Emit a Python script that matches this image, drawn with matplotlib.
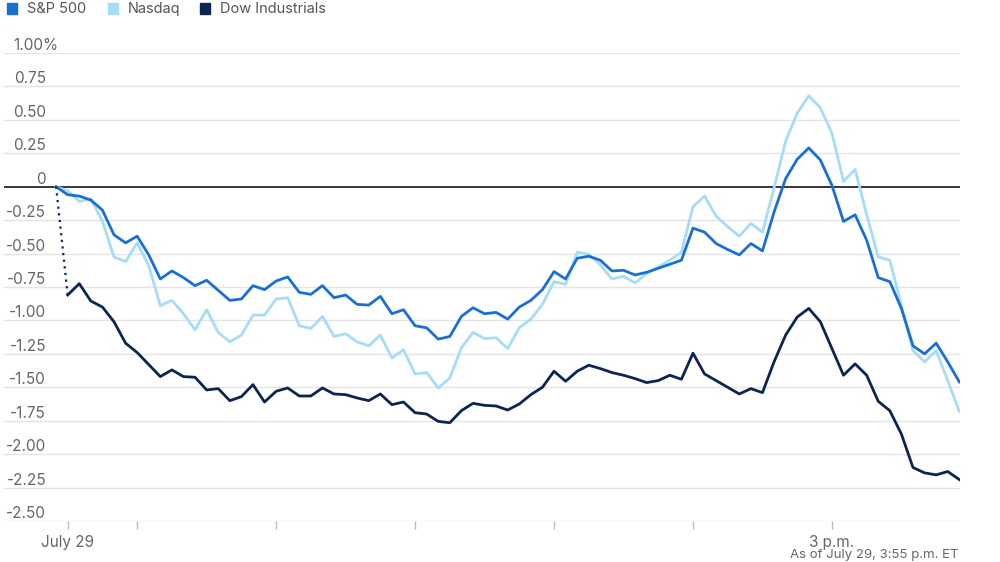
import matplotlib.pyplot as plt
import matplotlib.patches as mpatches
import numpy as np

plt.rcParams['font.family'] = ['Inter', 'DejaVu Sans']

# 5-minute marks, minutes after 9:25 a.m. (9:25 = prior close, 0%)
minutes = np.arange(0, 395, 5)

sp500 = [0, -0.06, -0.07, -0.10, -0.175, -0.36, -0.42, -0.37, -0.51, -0.69,
         -0.63, -0.68, -0.74, -0.70, -0.775, -0.85, -0.84, -0.74, -0.77, -0.705,
         -0.675, -0.79, -0.805, -0.74, -0.83, -0.81, -0.88, -0.885, -0.82, -0.95,
         -0.92, -1.04, -1.055, -1.14, -1.12, -0.97, -0.905, -0.95, -0.94, -0.99,
         -0.90, -0.85, -0.77, -0.635, -0.69, -0.535, -0.52, -0.55, -0.63, -0.625,
         -0.66, -0.64, -0.61, -0.58, -0.55, -0.31, -0.34, -0.425, -0.47, -0.51,
         -0.425, -0.48, -0.19, 0.06, 0.205, 0.29, 0.20, 0.01, -0.26, -0.21,
         -0.40, -0.68, -0.71, -0.91, -1.19, -1.25, -1.17, -1.31, -1.46]

nasdaq = [0, -0.03, -0.11, -0.09, -0.26, -0.525, -0.56, -0.42, -0.59, -0.89,
          -0.85, -0.95, -1.07, -0.92, -1.09, -1.16, -1.11, -0.96, -0.96, -0.84,
          -0.83, -1.04, -1.06, -0.97, -1.12, -1.10, -1.16, -1.19, -1.11, -1.28,
          -1.22, -1.40, -1.39, -1.505, -1.43, -1.205, -1.09, -1.135, -1.13, -1.21,
          -1.055, -0.99, -0.88, -0.71, -0.73, -0.49, -0.505, -0.585, -0.69, -0.67,
          -0.72, -0.65, -0.60, -0.55, -0.49, -0.15, -0.07, -0.22, -0.30, -0.37,
          -0.275, -0.34, -0.01, 0.34, 0.55, 0.68, 0.59, 0.40, 0.04, 0.13,
          -0.21, -0.525, -0.55, -0.89, -1.225, -1.31, -1.225, -1.45, -1.68]

dow = [0, -0.81, -0.725, -0.855, -0.90, -1.01, -1.17, -1.24, -1.33, -1.42,
       -1.37, -1.42, -1.425, -1.52, -1.51, -1.60, -1.57, -1.48, -1.61, -1.53,
       -1.505, -1.565, -1.565, -1.505, -1.55, -1.555, -1.58, -1.60, -1.55, -1.63,
       -1.61, -1.69, -1.70, -1.755, -1.765, -1.675, -1.62, -1.635, -1.64, -1.67,
       -1.625, -1.555, -1.50, -1.38, -1.455, -1.38, -1.335, -1.36, -1.39, -1.41,
       -1.435, -1.465, -1.45, -1.41, -1.44, -1.245, -1.40, -1.45, -1.50, -1.55,
       -1.51, -1.54, -1.31, -1.11, -0.975, -0.91, -1.01, -1.21, -1.41, -1.325,
       -1.41, -1.605, -1.675, -1.85, -2.10, -2.14, -2.155, -2.13, -2.19]

y_ticks = [1.0, 0.75, 0.5, 0.25, 0, -0.25, -0.5, -0.75, -1.0, -1.25, -1.5, -1.75, -2.0, -2.25, -2.5]
y_labels = ['1.00%', '0.75', '0.50', '0.25', '0', '-0.25', '-0.50', '-0.75', '-1.00',
            '-1.25', '-1.50', '-1.75', '-2.00', '-2.25', '-2.50']
x_ticks = [5, 35, 95, 155, 215, 275, 335]   # 9:30, 10, 11, 12, 1, 2, 3
x_labels = ['July 29', '', '', '', '', '', '3 p.m.']

series = [('S&P 500', sp500, '#1a6fd4'),
          ('Nasdaq', nasdaq, '#a6dcf5'),
          ('Dow Industrials', dow, '#0c2550')]

W, H = 1000, 562
fig = plt.figure(figsize=(W / 100, H / 100), dpi=100)
ax = fig.add_axes([4 / W, 1 - 521 / H, 956 / W, 468 / H])

for yv in y_ticks:
    if yv == 0:
        continue
    ax.axhline(yv, color='#e4e4e4', lw=1.0, zorder=0)
ax.axhline(0, color='black', lw=1.1, zorder=1)

grey = '#666666'
for yv, lab in zip(y_ticks, y_labels):
    if lab.endswith('%'):
        ax.text(10 / W, yv, lab, transform=ax.get_yaxis_transform(), ha='left',
                va='bottom', fontsize=11, color=grey)
    else:
        ax.text(44 / W, yv, lab, transform=ax.get_yaxis_transform(), ha='right',
                va='bottom', fontsize=11, color=grey)

# Nasdaq under S&P, Dow on top; Dow's first interval is dotted
for name, vals, col in [series[1], series[0]]:
    ax.plot(minutes, vals, color=col, lw=2.0, solid_joinstyle='round', zorder=3)
ax.plot(minutes[:2], dow[:2], color=series[2][2], lw=1.6, ls=(0, (1, 2)), zorder=3)
ax.plot(minutes[1:], dow[1:], color=series[2][2], lw=2.0, solid_joinstyle='round', zorder=3)

ax.set_xlim(-22.5, 390.3)
ax.set_ylim(-2.5, 1.0)
for s in ax.spines.values():
    s.set_visible(False)
ax.set_yticks([])
ax.set_xticks(x_ticks)
ax.set_xticklabels(x_labels, fontsize=11, color=grey)
ax.tick_params(axis='x', length=6, width=1, color='#bbbbbb', pad=4)

# legend across the top edge
lx = [7, 108, 200]
tx = [27, 128, 220]
for (name, vals, col), x0, x1 in zip(series, lx, tx):
    fig.patches.append(mpatches.Rectangle((x0 / W, 1 - 14 / H), 10 / W, 11 / H,
                                          transform=fig.transFigure, color=col))
    fig.text(x1 / W, 1 - 9 / H, name, fontsize=10.5, color='#555555', va='center')

fig.text(958 / W, 1 - 561 / H, 'As of July 29, 3:55 p.m. ET', ha='right', va='bottom',
         fontsize=9.5, color=grey)

fig.savefig('out.png', dpi=100)
